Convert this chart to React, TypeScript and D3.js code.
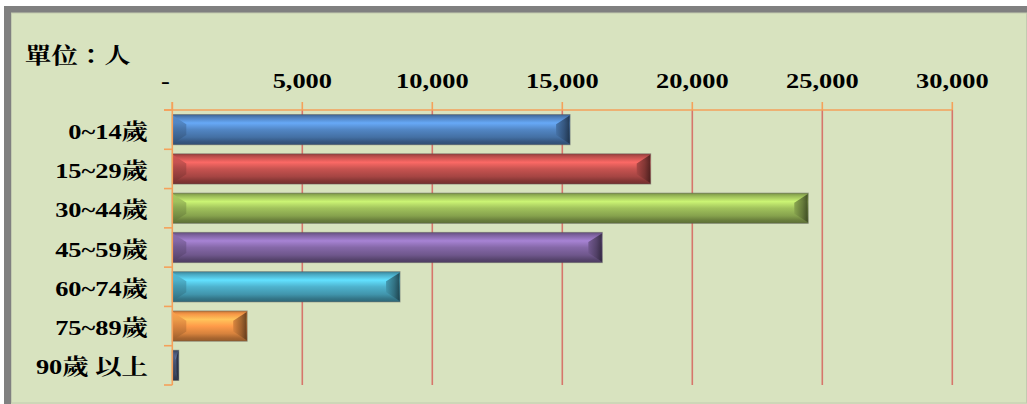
import * as d3 from 'd3';

const categories = ['0~14歲', '15~29歲', '30~44歲', '45~59歲', '60~74歲', '75~89歲', '90歲 以上'];
const values = [15300, 18400, 24460, 16540, 8760, 2880, 250];
const barColors = ['#4f81bd', '#c0504d', '#9bbb59', '#8064a2', '#4bacc6', '#f79646', '#4a5878'];
const xTicks = [0, 5000, 10000, 15000, 20000, 25000, 30000];
const unitLabel = '單位：人';

const W = 1027;
const H = 404;
const STRETCH = 1.2;
const FONT = '"Liberation Serif", "Noto Serif CJK TC", "Noto Sans CJK TC", serif';

export default function App() {
  const x = d3.scaleLinear().domain([0, 30000]).range([172.3, 952.3]);
  const y = d3.scaleBand<string>().domain(categories).range([110, 385]).paddingInner(0.23).paddingOuter(0.115);
  const step = y.step();
  const top = 110;
  const bottom = 385;
  const fmt = d3.format(',');

  return (
    <svg width={W} height={H} style={{ position: 'absolute', left: 0, top: 0, display: 'block' }}>
      <defs>
        {barColors.map((c, i) => {
          const col = d3.color(c)!;
          return (
            <g key={i}>
              <linearGradient id={`bar${i}`} x1="0" y1="0" x2="0" y2="1">
                <stop offset="0" stopColor={col.darker(0.7).formatHex()} />
                <stop offset="0.1" stopColor={col.formatHex()} />
                <stop offset="0.28" stopColor={col.brighter(0.75).formatHex()} />
                <stop offset="0.5" stopColor={col.brighter(0.1).formatHex()} />
                <stop offset="0.75" stopColor={col.darker(0.4).formatHex()} />
                <stop offset="0.9" stopColor={col.darker(1.1).formatHex()} />
                <stop offset="1" stopColor={col.darker(1.4).formatHex()} />
              </linearGradient>
              <linearGradient id={`left${i}`} x1="0" y1="0" x2="0" y2="1">
                <stop offset="0" stopColor={col.brighter(0.3).formatHex()} />
                <stop offset="0.45" stopColor={col.darker(0.4).formatHex()} />
                <stop offset="1" stopColor={col.darker(1.3).formatHex()} />
              </linearGradient>
              <linearGradient id={`right${i}`} x1="0" y1="0" x2="1" y2="0">
                <stop offset="0" stopColor={col.darker(0.4).formatHex()} />
                <stop offset="0.6" stopColor={col.darker(1.4).formatHex()} />
                <stop offset="1" stopColor={col.darker(2.8).formatHex()} />
              </linearGradient>
            </g>
          );
        })}
      </defs>

      {/* frame */}
      <rect x={7.5} y={9.5} width={W - 4} height={H - 5} fill="#d8e3bf" stroke="#808080" strokeWidth={7} />
      <rect x={11.5} y={13} width={W - 12} height={H - 14} fill="none" stroke="#c3cbb0" strokeWidth={1} />

      {/* unit */}
      <g transform={`translate(25,63) scale(${STRETCH},1)`}>
        <text fontFamily={FONT} fontWeight="bold" fontSize={22} fill="#000">{unitLabel}</text>
      </g>

      {/* gridlines */}
      {xTicks.filter(t => t > 0).map(t => (
        <line key={`g${t}`} x1={x(t)} x2={x(t)} y1={top} y2={bottom} stroke="#d6766b" strokeWidth={1.6} />
      ))}

      {/* top axis */}
      <line x1={164} x2={x(30000)} y1={top} y2={top} stroke="#f5a15a" strokeWidth={1.6} />
      {xTicks.map(t => (
        <line key={`t${t}`} x1={x(t)} x2={x(t)} y1={top - 8} y2={top} stroke="#f5a15a" strokeWidth={1.6} />
      ))}
      {xTicks.map(t => (
        <g key={`l${t}`} transform={`translate(${t === 0 ? x(t) - 7 : x(t)},88) scale(${STRETCH},1)`}>
          <text textAnchor="middle" fontFamily={FONT} fontWeight="bold" fontSize={22} fill="#000">
            {t === 0 ? '-' : fmt(t)}
          </text>
        </g>
      ))}

      {/* bars */}
      {categories.map((cat, i) => {
        const x0 = x(0);
        const x1 = x(values[i]);
        const y0 = y(cat)!;
        const h = y.bandwidth();
        const y1 = y0 + h;
        const w = x1 - x0;
        const b = Math.min(14, w / 2);
        const bv = h * 0.32;
        return (
          <g key={cat}>
            <rect x={x0} y={y0} width={w} height={h} fill={`url(#bar${i})`} stroke="rgba(90,90,90,0.45)" strokeWidth={1} />
            <polygon
              points={`${x0 + 0.5},${y0 + 1} ${x0 + b},${y0 + bv} ${x0 + b},${y1 - bv} ${x0 + 0.5},${y1 - 1}`}
              fill={`url(#left${i})`}
              opacity={0.8}
            />
            <polygon
              points={`${x1 - 0.5},${y0 + 1} ${x1 - b},${y0 + bv} ${x1 - b},${y1 - bv} ${x1 - 0.5},${y1 - 1}`}
              fill={`url(#right${i})`}
              opacity={0.9}
            />
          </g>
        );
      })}

      {/* left axis */}
      <line x1={x(0)} x2={x(0)} y1={top - 8} y2={bottom} stroke="#f5a15a" strokeWidth={1.6} />
      {d3.range(categories.length + 1).map(k => (
        <line key={`c${k}`} x1={164} x2={x(0)} y1={top + k * step} y2={top + k * step} stroke="#f5a15a" strokeWidth={1.6} />
      ))}
      {categories.map(cat => (
        <g key={`cl${cat}`} transform={`translate(148,${y(cat)! + y.bandwidth() / 2 + 9}) scale(${STRETCH},1)`}>
          <text textAnchor="end" fontFamily={FONT} fontWeight="bold" fontSize={22} fill="#000">{cat}</text>
        </g>
      ))}
    </svg>
  );
}
